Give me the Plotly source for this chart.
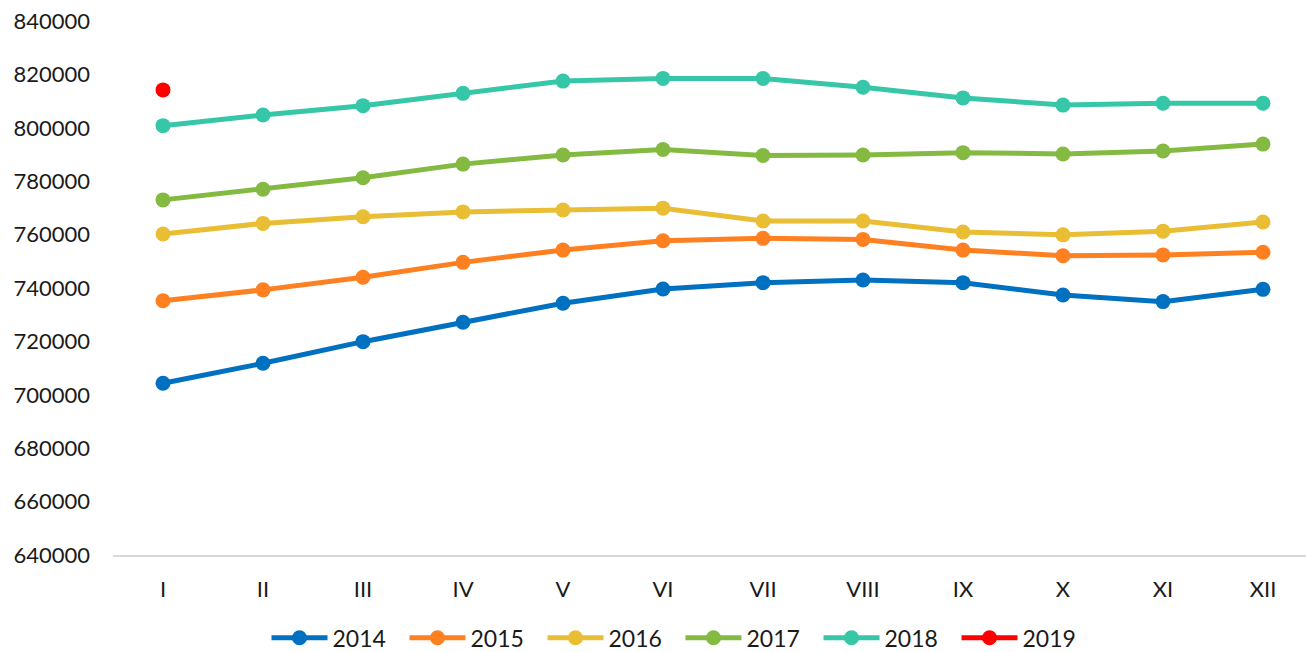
import plotly.graph_objects as go

months = ["I", "II", "III", "IV", "V", "VI", "VII", "VIII", "IX", "X", "XI", "XII"]

y2014 = [704300, 711800, 719900, 727200, 734300, 739600, 742000, 743000, 742000, 737400, 734900, 739500]
y2015 = [735200, 739300, 744000, 749600, 754200, 757700, 758600, 758200, 754200, 752100, 752400, 753400]
y2016 = [760200, 764200, 766700, 768500, 769200, 769900, 765100, 765100, 761000, 759900, 761300, 764700]
y2017 = [773000, 777000, 781300, 786400, 789800, 791900, 789600, 789800, 790700, 790200, 791300, 793900]
y2018 = [800800, 804800, 808300, 812900, 817500, 818500, 818500, 815200, 811200, 808500, 809200, 809200]
y2019 = [814200]

series = [
    ("2014", y2014, "#0070C0"),
    ("2015", y2015, "#FF8021"),
    ("2016", y2016, "#E9BE35"),
    ("2017", y2017, "#84BA42"),
    ("2018", y2018, "#36C6A8"),
    ("2019", y2019, "#FF0000"),
]

FONT = "Lato"
FS = 22
TXT = "#1a1a1a"

fig = go.Figure()
for name, vals, color in series:
    fig.add_trace(go.Scatter(
        x=months[:len(vals)], y=vals, name=name, mode="lines+markers",
        line=dict(color=color, width=5),
        marker=dict(color=color, size=15),
        cliponaxis=False,
    ))

fig.update_layout(
    width=1306, height=652,
    margin=dict(l=113, r=0, t=21, b=97, autoexpand=False),
    paper_bgcolor="white", plot_bgcolor="white",
    font=dict(family=FONT, size=FS, color=TXT),
    showlegend=True,
    legend=dict(orientation="h", x=0.4757, xanchor="center", y=-0.155, yanchor="middle",
                font=dict(family=FONT, size=23, color=TXT),
                itemwidth=56, entrywidth=67, entrywidthmode="pixels", tracegroupgap=0),
    xaxis=dict(
        type="category", categoryorder="array", categoryarray=months,
        range=[-0.5, 11.43], showgrid=False, zeroline=False, automargin=False,
        showline=True, linecolor="#d9d9d9", linewidth=2,
        ticks="", ticklabelstandoff=14,
        tickfont=dict(family=FONT, size=FS, color=TXT),
    ),
    yaxis=dict(
        range=[640000, 840000], dtick=20000, tick0=640000, automargin=False,
        showgrid=False, zeroline=False, showline=False,
        tickformat="d", ticks="", ticklabelstandoff=22,
        tickfont=dict(family=FONT, size=FS, color=TXT),
    ),
)

fig.write_html(
    "out.html",
    config={"displayModeBar": False},
    post_script="document.body.style.margin='0';document.body.style.overflow='hidden';",
)
